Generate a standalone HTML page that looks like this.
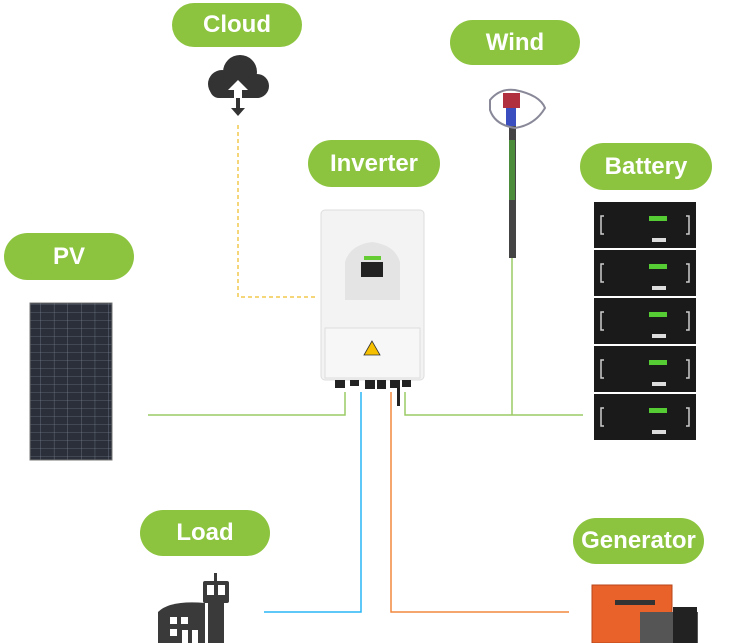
<!DOCTYPE html>
<html><head><meta charset="utf-8"><style>
body{margin:0;background:#fff;width:731px;height:643px;overflow:hidden}
.p{position:absolute;background:#8cc43f;border-radius:24px;color:#fff;font:bold 24px "Liberation Sans",sans-serif;text-align:center}
</style></head><body>
<svg width="731" height="643" style="position:absolute;left:0;top:0">
<!-- lines -->
<path d="M238 125 V297 H316" stroke="#f2c94c" stroke-width="1.5" fill="none" stroke-dasharray="4,3"/>
<path d="M148 415 H345 V392" stroke="#9ccc65" stroke-width="1.5" fill="none"/>
<path d="M361 392 V612 H264" stroke="#29b6f6" stroke-width="1.5" fill="none"/>
<path d="M391 392 V612 H569" stroke="#f0883e" stroke-width="1.5" fill="none"/>
<path d="M405 392 V415 H583 M512 258 V415" stroke="#9ccc65" stroke-width="1.5" fill="none"/>
<!-- cloud -->
<g fill="#333">
<circle cx="222" cy="84" r="14"/><circle cx="240" cy="72" r="17"/><circle cx="257" cy="86" r="12"/>
<rect x="210" y="80" width="56" height="18" rx="9"/>
</g>
<path d="M238 80 l-10 10 h6 v12 h8 v-12 h6z" fill="#fff"/>
<path d="M236 98 v10 h-5 l7 8 l7 -8 h-5 v-10z" fill="#333"/>
<!-- wind -->
<rect x="509" y="110" width="7" height="148" fill="#444"/>
<rect x="509" y="140" width="6" height="60" fill="#4a8c3a"/>
<rect x="503" y="93" width="17" height="15" fill="#b03040"/>
<rect x="506" y="108" width="10" height="18" fill="#3a4ec0"/>
<path d="M490 100 Q500 88 515 90 Q540 95 545 108 Q535 125 515 128 Q495 125 490 110Z" fill="none" stroke="#889" stroke-width="2"/>
<!-- inverter -->
<rect x="321" y="210" width="103" height="170" rx="4" fill="#f3f3f3" stroke="#ddd"/>
<path d="M345 262 Q350 245 372 242 Q395 245 400 262 V300 H345Z" fill="#e4e4e4"/>
<rect x="361" y="262" width="22" height="15" fill="#222"/>
<rect x="364" y="256" width="17" height="4" fill="#6c3"/>
<rect x="325" y="328" width="95" height="50" fill="#f7f7f7" stroke="#ddd"/>
<path d="M372 341 l-8 14 h16z" fill="#f6c000" stroke="#333" stroke-width="0.8"/>
<g fill="#222"><rect x="335" y="380" width="10" height="8"/><rect x="350" y="380" width="9" height="6"/><rect x="365" y="380" width="10" height="9"/><rect x="377" y="380" width="9" height="9"/><rect x="390" y="380" width="10" height="8"/><rect x="402" y="380" width="9" height="7"/><rect x="397" y="388" width="3" height="18"/></g>
<!-- battery -->
<g id="b">
<rect x="594" y="202" width="102" height="46" fill="#1a1a1a"/>
<rect x="649" y="216" width="18" height="5" fill="#5c3"/>
<rect x="652" y="238" width="14" height="4" fill="#ddd"/>
<path d="M604 216 h-3 v18 h3 M686 216 h3 v18 h-3" stroke="#ccc" stroke-width="1.5" fill="none"/>
</g>
<use href="#b" y="48"/><use href="#b" y="96"/><use href="#b" y="144"/><use href="#b" y="192"/>
<!-- PV -->
<defs><pattern id="pv" width="13.6" height="8" patternUnits="userSpaceOnUse"><rect width="13.6" height="8" fill="#2a2f3a"/><path d="M0 0H13.6V8" stroke="#8a93a0" stroke-width="0.6" fill="none"/></pattern></defs>
<rect x="30" y="303" width="82" height="157" fill="url(#pv)" stroke="#777"/>
<!-- load building -->
<g fill="#3a3a3a">
<rect x="214" y="573" width="3" height="8"/><rect x="203" y="581" width="26" height="22" rx="2"/>
<rect x="208" y="603" width="16" height="40"/>
<path d="M158 643 V612 Q170 600 205 603 V643Z"/>
</g>
<g fill="#fff"><rect x="207" y="585" width="7" height="10"/><rect x="218" y="585" width="7" height="10"/>
<rect x="170" y="617" width="7" height="7"/><rect x="181" y="617" width="7" height="7"/><rect x="170" y="629" width="7" height="7"/>
<rect x="182" y="630" width="6" height="13"/><rect x="192" y="630" width="6" height="13"/></g>
<!-- generator -->
<rect x="592" y="585" width="80" height="58" fill="#e8622a"/>
<rect x="592" y="585" width="80" height="58" fill="none" stroke="#b8441a"/>
<rect x="615" y="600" width="40" height="5" fill="#333"/>
<rect x="640" y="612" width="58" height="31" fill="#555"/>
<rect x="673" y="607" width="24" height="36" fill="#222"/>
</svg>
<div class="p" style="left:172px;top:3px;width:130px;height:44px;line-height:44px">Cloud</div>
<div class="p" style="left:450px;top:20px;width:130px;height:45px;line-height:45px">Wind</div>
<div class="p" style="left:308px;top:140px;width:132px;height:47px;line-height:47px">Inverter</div>
<div class="p" style="left:580px;top:143px;width:132px;height:47px;line-height:47px">Battery</div>
<div class="p" style="left:4px;top:233px;width:130px;height:47px;line-height:47px">PV</div>
<div class="p" style="left:140px;top:510px;width:130px;height:46px;line-height:46px">Load</div>
<div class="p" style="left:573px;top:518px;width:131px;height:46px;line-height:46px">Generator</div>
</body></html>
